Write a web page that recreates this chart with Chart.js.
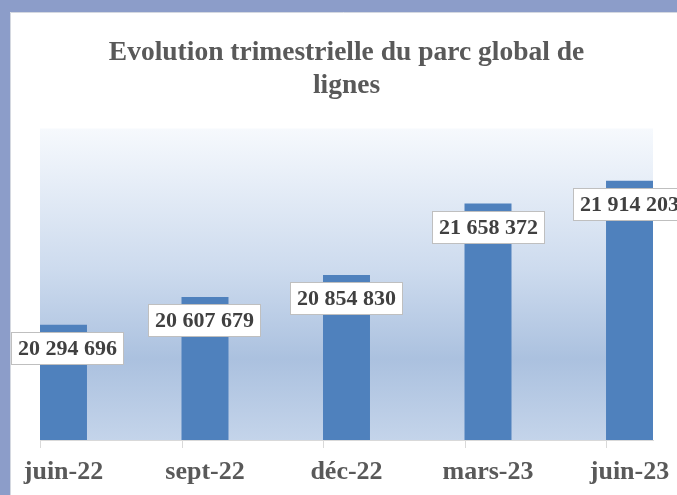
<!DOCTYPE html>
<html><head><meta charset="utf-8">
<script src="https://cdn.jsdelivr.net/npm/chart.js@4/dist/chart.umd.min.js"></script>
<style>html,body{margin:0;padding:0;background:#fff;overflow:hidden}#wrap{width:677px;height:495px;position:relative}</style>
</head><body><div id="wrap"><canvas id="c" width="677" height="495"></canvas></div>
<script>
const categories = ['juin-22', 'sept-22', 'déc-22', 'mars-23', 'juin-23'];
const parcGlobal = [20294696, 20607679, 20854830, 21658372, 21914203];
const titleLines = ['Evolution trimestrielle du parc global de', 'lignes'];
const yMin = 19000000;
const yMax = 22500000;

const SERIF = '"Liberation Serif", "Times New Roman", serif';

function fmt(v) {
  return String(v).replace(/\B(?=(\d{3})+(?!\d))/g, ' ');
}

const decor = {
  id: 'decor',
  beforeDraw(chart) {
    const ctx = chart.ctx, W = chart.width, H = chart.height, a = chart.chartArea;
    ctx.save();
    ctx.fillStyle = '#8C9DC9';
    ctx.fillRect(0, 0, W, H);
    ctx.fillStyle = '#ffffff';
    ctx.fillRect(10, 12, W - 10, H - 12);
    ctx.strokeStyle = '#d4d8e0';
    ctx.lineWidth = 1;
    ctx.beginPath();
    ctx.moveTo(10.5, H); ctx.lineTo(10.5, 12.5); ctx.lineTo(W, 12.5);
    ctx.stroke();
    const g = ctx.createLinearGradient(0, a.top, 0, a.bottom);
    g.addColorStop(0, '#f6f9fd');
    g.addColorStop(0.45, '#cddbee');
    g.addColorStop(0.74, '#abc1df');
    g.addColorStop(1, '#c4d4ea');
    ctx.fillStyle = g;
    ctx.fillRect(a.left, a.top, a.right - a.left, a.bottom - a.top);
    ctx.restore();
  },
  afterDatasetsDraw(chart) {
    const ctx = chart.ctx, a = chart.chartArea;
    const meta = chart.getDatasetMeta(0);
    ctx.save();
    // tick marks at bar left edges
    ctx.strokeStyle = '#d9d9d9';
    ctx.lineWidth = 1;
    meta.data.forEach(el => {
      const p = el.getProps(['x', 'width'], true);
      const x = Math.round(p.x - p.width / 2) + 0.5;
      ctx.beginPath();
      ctx.moveTo(x, a.bottom);
      ctx.lineTo(x, a.bottom + 8);
      ctx.stroke();
    });
    // data labels
    ctx.font = 'bold 22px ' + SERIF;
    ctx.textAlign = 'center';
    ctx.textBaseline = 'middle';
    meta.data.forEach((el, i) => {
      const p = el.getProps(['x', 'y'], true);
      const txt = fmt(parcGlobal[i]);
      const tw = ctx.measureText(txt).width;
      const bw = Math.round(tw + 14), bh = 33;
      let bx = Math.round(p.x - bw / 2);
      if (bx < 11) bx = 11;
      const by = Math.round(p.y + 24 - bh / 2);
      ctx.fillStyle = '#ffffff';
      ctx.fillRect(bx, by, bw, bh);
      ctx.strokeStyle = '#bfbfbf';
      ctx.strokeRect(bx + 0.5, by + 0.5, bw - 1, bh - 1);
      ctx.fillStyle = '#404040';
      ctx.fillText(txt, bx + bw / 2, by + bh / 2 + 1);
    });
    ctx.restore();
  }
};

new Chart(document.getElementById('c'), {
  type: 'bar',
  data: {
    datasets: [{
      data: parcGlobal.map((v, i) => ({ x: i, y: v })),
      backgroundColor: '#4F81BD',
      barPercentage: 0.332,
      categoryPercentage: 1
    }]
  },
  options: {
    responsive: false,
    animation: false,
    layout: { padding: { left: 40, right: 24, top: 12, bottom: 11 } },
    scales: {
      x: {
        type: 'linear',
        min: -0.166,
        max: 4.166,
        offset: false,
        grid: { display: false, drawTicks: false },
        border: { display: true, color: '#d9d9d9' },
        afterBuildTicks: (s) => { s.ticks = categories.map((_, i) => ({ value: i })); },
        afterFit: (s) => { s.height = 44; s.paddingLeft = 0; s.paddingRight = 0; },
        ticks: {
          autoSkip: false,
          maxRotation: 0,
          padding: 17,
          color: '#595959',
          font: { family: SERIF, size: 26, weight: 'bold' },
          callback: (v) => categories[v] ?? ''
        }
      },
      y: { display: false, min: yMin, max: yMax }
    },
    plugins: {
      legend: { display: false },
      tooltip: { enabled: false },
      title: {
        display: true,
        text: titleLines,
        color: '#595959',
        font: { family: SERIF, size: 27.5, weight: 'bold', lineHeight: 1.2 },
        padding: { top: 24.5, bottom: 26 }
      }
    }
  },
  plugins: [decor]
});
</script>
</body></html>
